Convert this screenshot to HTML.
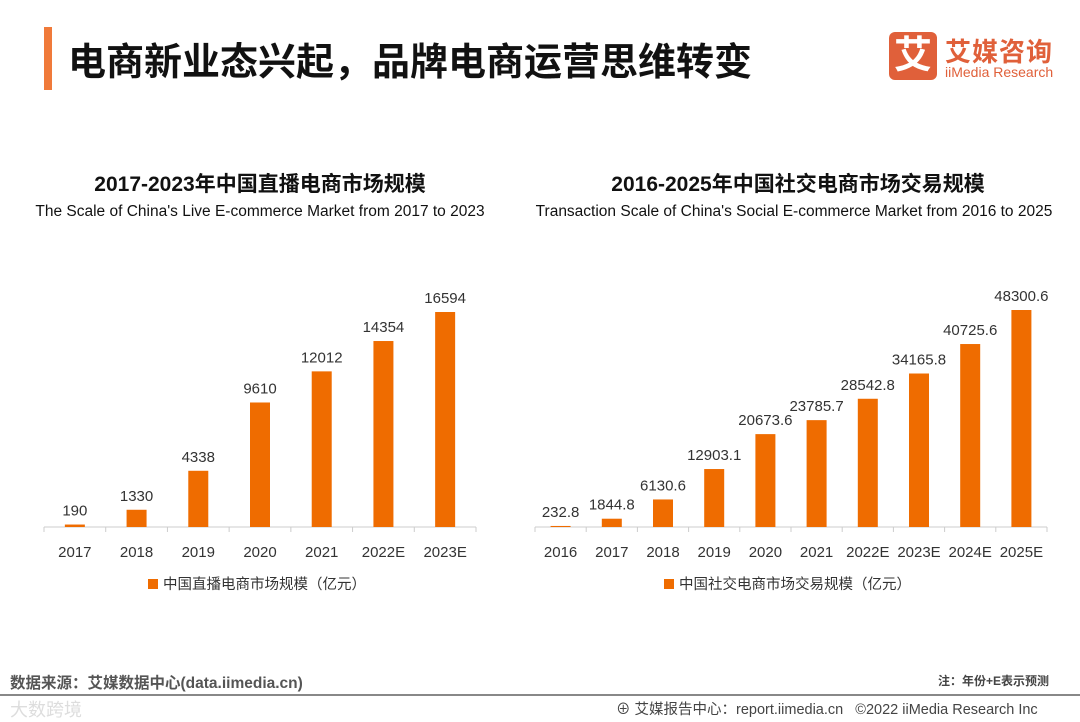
<!DOCTYPE html>
<html><head><meta charset="utf-8"><style>
body{margin:0;width:1080px;height:720px;background:#fff;position:relative;overflow:hidden;font-family:"Liberation Sans","Noto Sans CJK SC",sans-serif;}
.a{position:absolute;white-space:nowrap}
</style></head><body>
<div class="a" style="left:44px;top:27px;width:8px;height:63px;background:#F07A3A"></div>
<div class="a" style="left:68px;top:31px;font-size:38px;font-weight:bold;color:#111">电商新业态兴起，品牌电商运营思维转变</div>
<div class="a" style="left:889px;top:32px;width:48px;height:48px;background:#E0603A;border-radius:6px;color:#fff;font-size:38px;font-weight:bold;text-align:center;line-height:48px">艾</div>
<div class="a" style="left:945px;top:32px;font-size:26px;font-weight:bold;color:#E0603A;letter-spacing:1px">艾媒咨询</div>
<div class="a" style="left:945px;top:64px;font-size:14px;color:#E0603A">iiMedia Research</div>

<div class="a" style="left:0;width:520px;text-align:center;top:168px;font-size:21px;font-weight:bold;color:#111">2017-2023年中国直播电商市场规模</div>
<div class="a" style="left:0;width:520px;text-align:center;top:203px;font-size:15.5px;color:#111">The Scale of China's Live E-commerce Market from 2017 to 2023</div>
<div class="a" style="left:534px;width:528px;text-align:center;top:168px;font-size:21px;font-weight:bold;color:#111">2016-2025年中国社交电商市场交易规模</div>
<div class="a" style="left:530px;width:528px;text-align:center;top:203px;font-size:15.5px;color:#111">Transaction Scale of China's Social E-commerce Market from 2016 to 2025</div>

<svg id="s" class="a" style="left:0;top:0" width="1080" height="720"></svg>

<div class="a" style="left:10px;top:671px;font-size:15.5px;font-weight:bold;color:#555">数据来源：艾媒数据中心(data.iimedia.cn)</div>
<div class="a" style="left:938px;top:672px;font-size:12px;font-weight:bold;color:#444">注：年份+E表示预测</div>
<div class="a" style="left:0;top:694px;width:1080px;height:2px;background:#888"></div>
<div class="a" style="left:10px;top:696px;font-size:18px;color:#ddd">大数跨境</div>
<div class="a" style="left:616px;top:698px;font-size:14.5px;color:#444">⊕ 艾媒报告中心：report.iimedia.cn&nbsp;&nbsp;&nbsp;©2022 iiMedia Research Inc</div>

<script>
const liveCats=["2017","2018","2019","2020","2021","2022E","2023E"];
const liveVals=[190,1330,4338,9610,12012,14354,16594];
const liveLabels=["190","1330","4338","9610","12012","14354","16594"];
const socCats=["2016","2017","2018","2019","2020","2021","2022E","2023E","2024E","2025E"];
const socVals=[232.8,1844.8,6130.6,12903.1,20673.6,23785.7,28542.8,34165.8,40725.6,48300.6];
const socLabels=["232.8","1844.8","6130.6","12903.1","20673.6","23785.7","28542.8","34165.8","40725.6","48300.6"];
const svg=document.getElementById('s');const NS="http://www.w3.org/2000/svg";
function el(t,a){const e=document.createElementNS(NS,t);for(const k in a)e.setAttribute(k,a[k]);svg.appendChild(e);return e;}
function chart(cats,vals,labels,x0,x1,maxH,maxV,bw,legend,lx,key){
  const base=527,step=(x1-x0)/cats.length;
  const y=v=>base-v/maxV*maxH;
  let ax=el('line',{x1:x0,x2:x1,y1:base,y2:base,stroke:'#ccc','stroke-width':1});
  
  for(let i=0;i<=cats.length;i++){const t=el('line',{x1:x0+i*step,x2:x0+i*step,y1:base,y2:base+5,stroke:'#ccc'});
    }
  cats.forEach((c,i)=>{
    const cx=x0+step*(i+.5);
    const r=el('rect',{x:cx-bw/2,y:y(vals[i]),width:bw,height:base-y(vals[i]),fill:'#EF6C00'});
    
    const l=el('text',{x:cx,y:y(vals[i])-9,'text-anchor':'middle','font-size':15,fill:'#333'});l.textContent=labels[i];
    
    const t=el('text',{x:cx,y:557,'text-anchor':'middle','font-size':15,fill:'#333'});t.textContent=c;
    
  });
  const ls=el('rect',{x:lx,y:579,width:10,height:10,fill:'#EF6C00'});
  
  const lt=el('text',{x:lx+15,y:589,'font-size':14.5,fill:'#333'});lt.textContent=legend;
  
}
chart(liveCats,liveVals,liveLabels,44,476,215,16594,20,"中国直播电商市场规模（亿元）",148,'live');
chart(socCats,socVals,socLabels,535,1047,217,48300.6,20,"中国社交电商市场交易规模（亿元）",664,'social');
</script>
</body></html>
